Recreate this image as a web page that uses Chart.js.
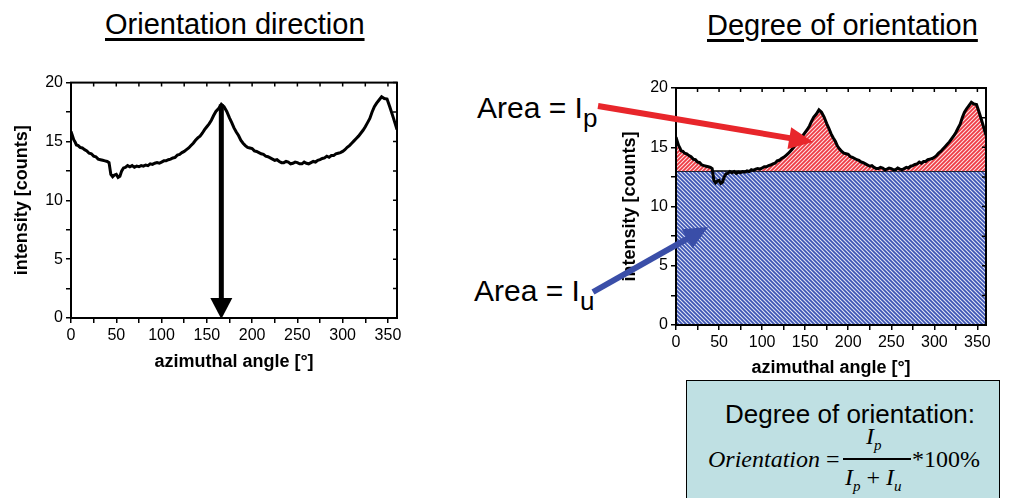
<!DOCTYPE html>
<html>
<head>
<meta charset="utf-8">
<script src="https://cdn.jsdelivr.net/npm/chart.js@4/dist/chart.umd.min.js"></script>
<style>
body { margin: 0; width: 1018px; height: 498px; position: relative; overflow: hidden; background: #fff; font-family: Arial, "Liberation Sans", sans-serif; color: #000; }
.abs { position: absolute; white-space: nowrap; }
.title { font-size: 29px; line-height: 29px; text-decoration: underline; text-decoration-thickness: 2.5px; text-underline-offset: 4px; }
.area { font-size: 30px; line-height: 30px; }
.area sub { font-size: 26px; vertical-align: -9px; line-height: 0; }
.formula { font-family: "Liberation Serif", "Times New Roman", serif; font-size: 24px; line-height: 24px; }
.formula i sub { font-size: 15px; vertical-align: -6px; line-height: 0; }
</style>
</head>
<body>

<div class="abs title" style="left:105px; top:10px">Orientation direction</div>
<div class="abs title" style="left:707px; top:11px">Degree of orientation</div>

<div class="abs" style="left:0; top:70px"><canvas id="dirChart" width="420" height="305"></canvas></div>
<div class="abs" style="left:610px; top:70px"><canvas id="degChart" width="400" height="310"></canvas></div>

<div class="abs area" style="left:477px; top:93px">Area = I<sub>p</sub></div>
<div class="abs area" style="left:474px; top:276px">Area = I<sub>u</sub></div>

<div class="abs" style="left:686px; top:380px; width:314px; height:130px; background:#bfe0e3; border:1.5px solid #000; box-sizing:border-box"></div>
<div class="abs" style="left:725px; top:401px; font-size:26px; line-height:26px">Degree of orientation:</div>
<div class="abs formula" style="left:708px; top:447px"><i>Orientation</i> =</div>
<div class="abs formula" style="left:866px; top:424px"><i>I<sub>p</sub></i></div>
<div class="abs" style="left:843px; top:458px; width:68px; height:1.5px; background:#000"></div>
<div class="abs formula" style="left:845px; top:465px"><i>I<sub>p</sub></i> + <i>I<sub>u</sub></i></div>
<div class="abs formula" style="left:912px; top:447px">*100%</div>

<svg id="overlay" class="abs" style="left:0; top:0" width="1018" height="498"></svg>

<script>
// azimuthal scan
const angles = [0, 1.5, 3, 4.5, 6, 8, 10, 12.5, 15, 17.5, 20, 22.5, 25, 27.5, 30, 32.5, 35, 37.5, 40, 42,
    44, 46, 48, 50, 52, 54, 56, 58, 60, 62.5, 65, 67.5, 70, 72.5, 75, 77.5, 80, 82.5, 85, 87.5,
    90, 92.5, 95, 97.5, 100, 102.5, 105, 107.5, 110, 112.5, 115, 117.5, 120, 122.5, 125, 127.5, 130, 132.5, 135, 137.5,
    140, 142.5, 145, 147.5, 150, 152.5, 155, 157.5, 160, 163, 166, 169, 172, 175, 177.5, 180, 182.5, 185, 187.5, 190,
    192.5, 195, 197.5, 200, 202.5, 205, 207.5, 210, 212.5, 215, 217.5, 220, 222.5, 225, 227.5, 230, 232.5, 235, 237.5, 240,
    242.5, 245, 247.5, 250, 252.5, 255, 257.5, 260, 262.5, 265, 267.5, 270, 272.5, 275, 277.5, 280, 282.5, 285, 287.5, 290,
    292.5, 295, 297.5, 300, 302.5, 305, 307.5, 310, 312.5, 315, 317.5, 320, 322.5, 325, 327.5, 330, 332.5, 335, 337.5, 340,
    343, 346, 349, 352, 356, 360]
const intensity = [15.85, 15.5, 15.15, 14.95, 14.7, 14.65, 14.5, 14.45, 14.3, 14.2, 14.0, 13.95, 13.75, 13.7, 13.5, 13.45, 13.4, 13.35, 13.3, 13.2,
    12.2, 12.0, 12.15, 12.2, 11.95, 12.05, 12.5, 12.75, 12.8, 12.95, 12.85, 12.95, 12.8, 12.9, 12.85, 12.95, 12.9, 13.0, 12.95, 13.1,
    13.05, 13.15, 13.2, 13.15, 13.25, 13.35, 13.35, 13.45, 13.5, 13.6, 13.65, 13.85, 13.9, 14.05, 14.15, 14.3, 14.45, 14.65, 14.85, 15.1,
    15.3, 15.45, 15.7, 16.0, 16.25, 16.5, 16.8, 17.2, 17.55, 17.8, 18.15, 17.95, 17.55, 17.0, 16.6, 16.15, 15.8, 15.5, 15.1, 14.85,
    14.65, 14.5, 14.45, 14.4, 14.2, 14.15, 14.05, 13.95, 13.9, 13.75, 13.7, 13.6, 13.5, 13.4, 13.45, 13.3, 13.2, 13.2, 13.3, 13.25,
    13.1, 13.15, 13.25, 13.2, 13.1, 13.1, 13.25, 13.15, 13.1, 13.2, 13.3, 13.25, 13.4, 13.45, 13.55, 13.6, 13.75, 13.65, 13.8, 13.8,
    13.95, 14.0, 14.05, 14.15, 14.3, 14.5, 14.65, 14.85, 15.05, 15.25, 15.45, 15.7, 15.95, 16.25, 16.6, 16.95, 17.5, 17.95, 18.25, 18.5,
    18.8, 18.65, 18.6, 17.95, 17.0, 16.0]
const baseline = 13   // intensity level splitting Ip from Iu
const xTicks = [0, 50, 100, 150, 200, 250, 300, 350]
const yTicks = [0, 5, 10, 15, 20]

const points = angles.map((a, i) => ({x: a, y: intensity[i]}))

// direction = angle of the strongest peak in the first half of the scan
let peakIdx = 0
angles.forEach((a, i) => { if (a < 250 && intensity[i] > intensity[peakIdx]) peakIdx = i })

function hatch(base, dir) {
    let c = document.createElement('canvas')
    c.width = 4; c.height = 4
    let g = c.getContext('2d')
    g.fillStyle = base
    g.fillRect(0, 0, 4, 4)
    g.strokeStyle = 'rgba(255,255,255,0.85)'
    g.lineWidth = 1.1
    g.beginPath()
    if (dir === '/') {
        g.moveTo(-1, 5); g.lineTo(5, -1)
        g.moveTo(-1, 1); g.lineTo(1, -1)
        g.moveTo(3, 5); g.lineTo(5, 3)
    } else {
        g.moveTo(-1, -1); g.lineTo(5, 5)
        g.moveTo(3, -1); g.lineTo(5, 1)
        g.moveTo(-1, 3); g.lineTo(1, 5)
    }
    g.stroke()
    return g.createPattern(c, 'repeat')
}

const frame = {
    id: 'frame',
    afterDraw(chart) {
        let {ctx, chartArea: a, scales} = chart
        ctx.save()
        ctx.strokeStyle = '#000'
        ctx.lineWidth = 2
        ctx.strokeRect(a.left, a.top, a.right - a.left, a.bottom - a.top)
        ctx.lineWidth = 1.5
        ctx.beginPath()
        scales.x.ticks.forEach(t => {
            let x = scales.x.getPixelForValue(t.value)
            ctx.moveTo(x, a.top); ctx.lineTo(x, a.top + 4)
        })
        scales.y.ticks.forEach(t => {
            let y = scales.y.getPixelForValue(t.value)
            ctx.moveTo(a.right, y); ctx.lineTo(a.right - 4, y)
        })
        ctx.stroke()
        ctx.restore()
    }
}

const peakArrow = {
    id: 'peakArrow',
    afterDatasetsDraw(chart) {
        let {ctx, scales} = chart
        let x = scales.x.getPixelForValue(angles[peakIdx])
        let top = scales.y.getPixelForValue(intensity[peakIdx])
        let bot = scales.y.getPixelForValue(0)
        ctx.save()
        ctx.fillStyle = '#000'
        ctx.fillRect(x - 2.5, top, 5, bot - top - 18)
        ctx.beginPath()
        ctx.moveTo(x - 11, bot - 20)
        ctx.lineTo(x + 11, bot - 20)
        ctx.lineTo(x, bot + 1)
        ctx.closePath()
        ctx.fill()
        ctx.restore()
    }
}

function scaleOpts(yWidth, xHeight, yTitlePad, xTitlePad) {
    const tickFont = {family: 'Arial, "Liberation Sans", sans-serif', size: 16}
    const titleFont = {family: 'Arial, "Liberation Sans", sans-serif', size: 18, weight: 'bold'}
    return {
        x: {
            type: 'linear', min: 0, max: 360,
            afterBuildTicks: s => {
                let t = []
                for (let v = 0; v <= 350; v += 25) t.push({value: v})
                s.ticks = t
            },
            ticks: {
                autoSkip: false, maxRotation: 0, color: '#000', font: tickFont, padding: 3,
                callback: v => xTicks.includes(v) ? v : ''
            },
            grid: {drawOnChartArea: false, color: '#000', lineWidth: 1.5, tickLength: 5},
            border: {color: '#000', width: 2},
            title: {display: true, text: 'azimuthal angle [°]', color: '#000', font: titleFont, padding: {top: 0, bottom: xTitlePad}},
            afterFit: s => { s.height = xHeight }
        },
        y: {
            min: 0, max: 20,
            ticks: {
                stepSize: 2.5, autoSkip: false, color: '#000', font: tickFont, padding: 3,
                callback: v => yTicks.includes(v) ? v : ''
            },
            grid: {drawOnChartArea: false, color: '#000', lineWidth: 1.5, tickLength: 5},
            border: {color: '#000', width: 2},
            title: {display: true, text: 'intensity [counts]', color: '#000', font: titleFont, padding: {top: yTitlePad, bottom: 0}},
            afterFit: s => { s.width = yWidth }
        }
    }
}

const common = {
    responsive: false,
    animation: false,
    devicePixelRatio: 1,
    plugins: {legend: {display: false}, tooltip: {enabled: false}},
    elements: {point: {radius: 0}, line: {tension: 0}}
}

new Chart(document.getElementById('dirChart'), {
    type: 'line',
    data: {
        datasets: [{data: points, borderColor: '#000', borderWidth: 3, fill: false}]
    },
    options: {
        ...common,
        layout: {padding: {top: 11, right: 23, left: 0, bottom: 0}},
        scales: scaleOpts(71, 57, 11, 2)
    },
    plugins: [frame, peakArrow]
})

new Chart(document.getElementById('degChart'), {
    type: 'line',
    data: {
        datasets: [
            {
                data: points, borderColor: '#000', borderWidth: 3, order: 1,
                fill: {target: {value: baseline}, above: hatch('#ee3b44', '/'), below: 'rgba(0,0,0,0)'}
            },
            {
                data: [{x: 0, y: baseline}, {x: 360, y: baseline}], borderColor: '#000', borderWidth: 1.5, order: 2,
                fill: 'origin', backgroundColor: hatch('#3d55b5', '\\')
            }
        ]
    },
    options: {
        ...common,
        layout: {padding: {top: 18, right: 24, left: 0, bottom: 0}},
        scales: scaleOpts(66, 55, 9, 1)
    },
    plugins: [frame]
})

// annotation arrows pointing into the areas
function arrow(x1, y1, x2, y2, color, w, len, half) {
    let dx = x2 - x1, dy = y2 - y1
    let d = Math.hypot(dx, dy)
    let ux = dx / d, uy = dy / d
    let bx = x2 - ux * len, by = y2 - uy * len
    let svg = document.getElementById('overlay')
    let ns = 'http://www.w3.org/2000/svg'
    let line = document.createElementNS(ns, 'line')
    line.setAttribute('x1', x1); line.setAttribute('y1', y1)
    line.setAttribute('x2', bx + ux * 2); line.setAttribute('y2', by + uy * 2)
    line.setAttribute('stroke', color); line.setAttribute('stroke-width', w)
    svg.appendChild(line)
    let head = document.createElementNS(ns, 'polygon')
    head.setAttribute('points', [
        [x2, y2], [bx - uy * half, by + ux * half], [bx + uy * half, by - ux * half]
    ].map(p => p.join(',')).join(' '))
    head.setAttribute('fill', color)
    svg.appendChild(head)
}
arrow(598, 106, 813, 142, '#e8262b', 6, 24, 11)
arrow(593, 292, 708, 227, '#3a4ea8', 6, 24, 11)
</script>
</body>
</html>
